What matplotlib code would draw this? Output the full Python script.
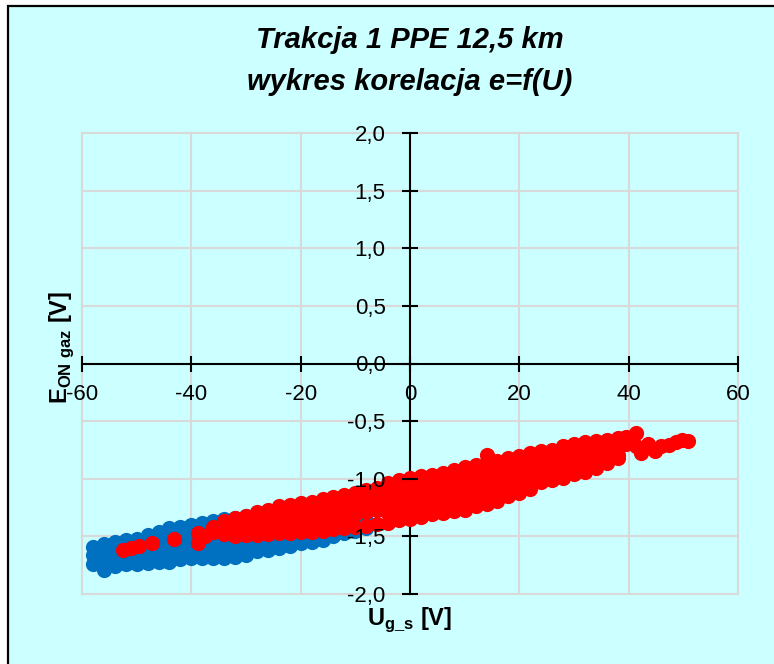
import matplotlib
matplotlib.use("Agg")
import matplotlib.pyplot as plt
from matplotlib.patches import Rectangle

plt.rcParams['font.family'] = ['Liberation Sans', 'DejaVu Sans']
plt.rcParams['mathtext.fontset'] = 'custom'
plt.rcParams['mathtext.rm'] = 'Liberation Sans'
plt.rcParams['mathtext.bf'] = 'Liberation Sans:bold'
plt.rcParams['axes.unicode_minus'] = False

# Dane (kolumny U z listami wartosci E)
blue_u = [-58, -56, -54, -52, -50, -48, -46, -44, -42, -40, -38, -36, -34,
          -32, -30, -28, -26, -24, -22, -20, -18, -16, -14, -12, -10, -8]
blue_e = [
    [-1.59, -1.66, -1.74],
    [-1.57, -1.64, -1.72, -1.79],
    [-1.55, -1.62, -1.70, -1.76],
    [-1.53, -1.60, -1.67, -1.74],
    [-1.52, -1.59, -1.66, -1.74],
    [-1.49, -1.57, -1.65, -1.73],
    [-1.46, -1.54, -1.63, -1.72],
    [-1.43, -1.51, -1.60, -1.68, -1.72],
    [-1.42, -1.50, -1.58, -1.66, -1.70],
    [-1.40, -1.48, -1.56, -1.64, -1.69],
    [-1.38, -1.46, -1.54, -1.62, -1.69],
    [-1.37, -1.45, -1.53, -1.61, -1.69],
    [-1.35, -1.43, -1.52, -1.60, -1.69],
    [-1.34, -1.42, -1.51, -1.60, -1.68],
    [-1.32, -1.41, -1.49, -1.58, -1.66],
    [-1.31, -1.39, -1.47, -1.55, -1.63],
    [-1.29, -1.38, -1.46, -1.54, -1.62],
    [-1.28, -1.36, -1.44, -1.52, -1.60],
    [-1.26, -1.34, -1.42, -1.50, -1.58],
    [-1.25, -1.33, -1.41, -1.49, -1.56],
    [-1.24, -1.32, -1.40, -1.48, -1.55],
    [-1.22, -1.30, -1.38, -1.46, -1.53],
    [-1.20, -1.28, -1.36, -1.44, -1.50],
    [-1.18, -1.26, -1.34, -1.41, -1.47],
    [-1.16, -1.24, -1.32, -1.39, -1.45],
    [-1.14, -1.22, -1.30, -1.37, -1.43],
]

red_u = [-52.5, -51, -49.5, -47.2, -43.2, -38.8, -37.5,
         -36, -34, -32, -30, -28, -26, -24, -22, -20, -18, -16, -14, -12,
         -10, -8, -6, -4, -2, 0, 2, 4, 6, 8, 10, 12, 14, 16, 18, 20, 22,
         24, 26, 28, 30, 32, 34, 36, 38, 39.5, 41.3, 42.3, 43.5, 44.8,
         46, 47.3, 48.6, 49.8, 50.8]
red_e = [
    [-1.62], [-1.60], [-1.58], [-1.56], [-1.52], [-1.47, -1.56], [-1.50],
    [-1.42, -1.46],
    [-1.37, -1.44, -1.48],
    [-1.34, -1.42, -1.50],
    [-1.32, -1.40, -1.49],
    [-1.29, -1.37, -1.45, -1.49],
    [-1.27, -1.35, -1.42, -1.48],
    [-1.24, -1.32, -1.40, -1.47],
    [-1.23, -1.31, -1.39, -1.47],
    [-1.21, -1.29, -1.38, -1.46],
    [-1.20, -1.28, -1.37, -1.46],
    [-1.18, -1.27, -1.36, -1.45],
    [-1.16, -1.25, -1.35, -1.44],
    [-1.14, -1.23, -1.33, -1.43],
    [-1.12, -1.21, -1.31, -1.42],
    [-1.10, -1.19, -1.29, -1.41],
    [-1.08, -1.17, -1.27, -1.39],
    [-1.04, -1.13, -1.22, -1.30, -1.38],
    [-1.01, -1.10, -1.19, -1.28, -1.36],
    [-0.99, -1.08, -1.17, -1.26, -1.35],
    [-0.98, -1.07, -1.15, -1.24, -1.33],
    [-0.97, -1.05, -1.14, -1.22, -1.31],
    [-0.95, -1.04, -1.12, -1.21, -1.30],
    [-0.92, -1.01, -1.10, -1.19, -1.28],
    [-0.90, -0.99, -1.08, -1.17, -1.27],
    [-0.88, -0.97, -1.06, -1.15, -1.24],
    [-0.79, -0.86, -0.95, -1.04, -1.13, -1.22],
    [-0.85, -0.93, -1.02, -1.11, -1.19],
    [-0.82, -0.90, -0.98, -1.07, -1.15],
    [-0.80, -0.88, -0.96, -1.04, -1.12],
    [-0.78, -0.86, -0.94, -1.02, -1.09],
    [-0.76, -0.83, -0.90, -0.97, -1.03],
    [-0.75, -0.82, -0.89, -0.95, -1.01],
    [-0.72, -0.79, -0.86, -0.93, -0.99],
    [-0.70, -0.77, -0.84, -0.91, -0.96],
    [-0.68, -0.75, -0.82, -0.89, -0.94],
    [-0.67, -0.74, -0.80, -0.86, -0.91],
    [-0.66, -0.73, -0.80, -0.86],
    [-0.65, -0.72, -0.79, -0.82],
    [-0.64, -0.70],
    [-0.60, -0.72],
    [-0.78], [-0.70], [-0.76], [-0.72], [-0.71], [-0.68], [-0.66], [-0.67],
]

x_ticks = [-60, -40, -20, 0, 20, 40, 60]
y_ticks = [2.0, 1.5, 1.0, 0.5, 0.0, -0.5, -1.0, -1.5, -2.0]
y_tick_labels = ['2,0', '1,5', '1,0', '0,5', '0,0', '-0,5', '-1,0', '-1,5', '-2,0']

bg = '#CCFFFF'
grid_color = '#D9D9D9'


def flatten(us, es):
    xs, ys = [], []
    for u, col in zip(us, es):
        for e in col:
            xs.append(u)
            ys.append(e)
    return xs, ys


fig = plt.figure(figsize=(7.74, 6.64), dpi=100, facecolor='white')
# tlo wykresu z ramka (prawa i dolna krawedz poza obrazem)
fig.patches.append(Rectangle((8 / 774, -0.02), 1.05, 1.02 - 6 / 664,
                             transform=fig.transFigure, facecolor=bg,
                             edgecolor='black', linewidth=1.6, zorder=-5))

ax = fig.add_axes([82 / 774, 1 - 594 / 664, (738 - 82) / 774, (594 - 133) / 664])
ax.set_zorder(2)
ax.set_facecolor(bg)

# siatka pod punktami
for x in x_ticks:
    if x != 0:
        ax.axvline(x, color=grid_color, linewidth=1.5, zorder=0.5, clip_on=False)
for y in y_ticks:
    if y != 0:
        ax.axhline(y, color=grid_color, linewidth=1.5, zorder=0.5, clip_on=False)

bx, by = flatten(blue_u, blue_e)
rx, ry = flatten(red_u, red_e)
ax.scatter(bx, by, s=120, color='#0070C0', linewidths=0, zorder=2)
ax.scatter(rx, ry, s=120, color='#FF0000', linewidths=0, zorder=2.1)

ax.set_xlim(-60, 60)
ax.set_ylim(-2, 2)
ax.set_xticks(x_ticks)
ax.set_yticks(y_ticks)
ax.set_yticklabels(y_tick_labels)
ax.set_axisbelow(False)

ax.spines['left'].set_position(('data', 0))
ax.spines['bottom'].set_position(('data', 0))
ax.spines['top'].set_visible(False)
ax.spines['right'].set_visible(False)
for s in ['left', 'bottom']:
    ax.spines[s].set_linewidth(1.5)
    ax.spines[s].set_zorder(1)

ax.tick_params(axis='both', direction='inout', length=11, width=1.5,
               labelsize=16, colors='black')
ax.tick_params(axis='x', pad=9)
ax.tick_params(axis='y', pad=12)

fig.text(410 / 774, 1 - 40 / 664, 'Trakcja 1 PPE 12,5 km', ha='center', va='center',
         fontsize=21, fontweight='bold', fontstyle='italic')
fig.text(410 / 774, 1 - 82 / 664, 'wykres korelacja e=f(U)', ha='center', va='center',
         fontsize=21, fontweight='bold', fontstyle='italic')

fig.text(410 / 774, 1 - 625 / 664, r'$\mathbf{U}_{\mathbf{g\_s}}$ [V]', ha='center',
         va='baseline', fontsize=17, fontweight='bold')
fig.text(62 / 774, 1 - 347 / 664, r'$\mathbf{E}_{\mathbf{ON\ gaz}}$ [V]', ha='center',
         va='center', fontsize=17, fontweight='bold', rotation=90)

fig.savefig('out.png', dpi=100, facecolor='white')
